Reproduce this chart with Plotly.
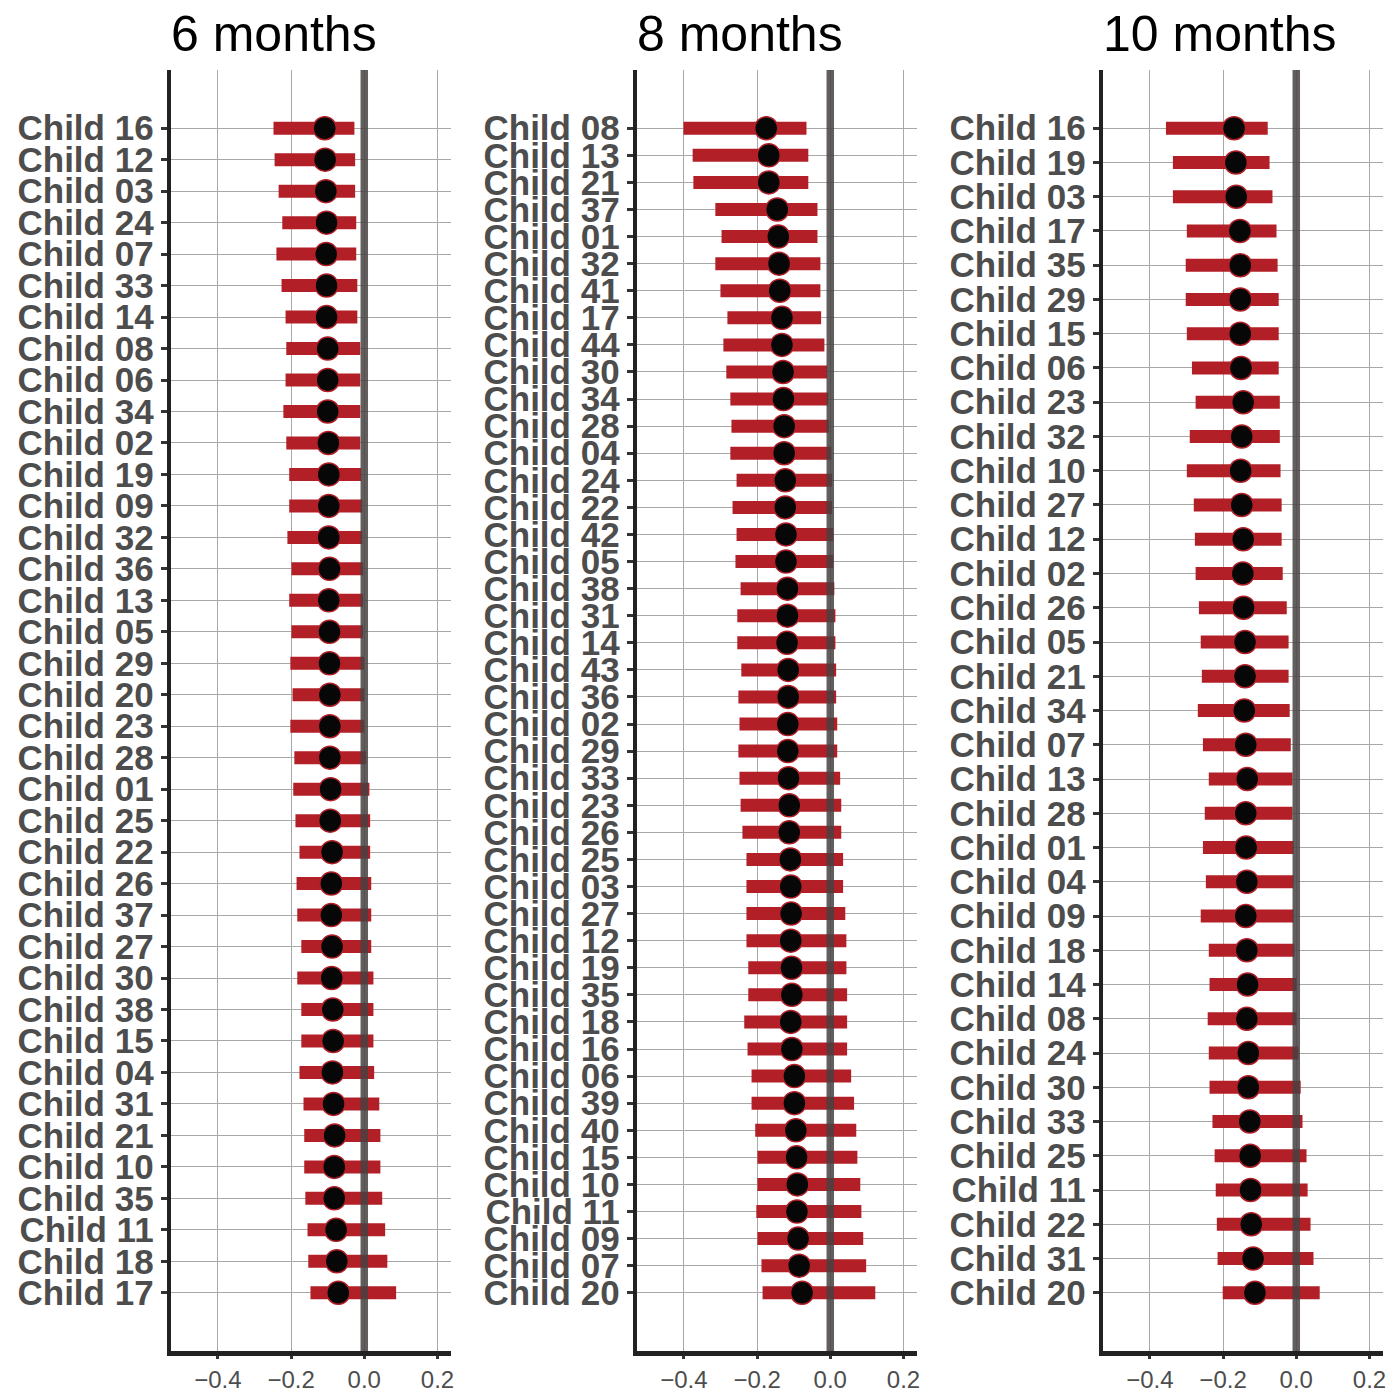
import plotly.graph_objects as go

# ---------------- data ----------------
titles = ["6 months", "8 months", "10 months"]

names6 = ["16","12","03","24","07","33","14","08","06","34",
          "02","19","09","32","36","13","05","29","20","23",
          "28","01","25","22","26","37","27","30","38","15",
          "04","31","21","10","35","11","18","17"]
est6 = [-0.108,-0.107,-0.105,-0.103,-0.104,-0.103,-0.103,-0.100,-0.100,-0.100,
        -0.098,-0.097,-0.097,-0.097,-0.095,-0.097,-0.095,-0.095,-0.094,-0.094,
        -0.094,-0.092,-0.093,-0.088,-0.090,-0.090,-0.088,-0.089,-0.086,-0.085,
        -0.087,-0.084,-0.081,-0.082,-0.082,-0.077,-0.075,-0.071]
lo6 = [-0.248,-0.245,-0.234,-0.224,-0.240,-0.226,-0.215,-0.213,-0.215,-0.221,
       -0.213,-0.205,-0.205,-0.210,-0.199,-0.205,-0.199,-0.202,-0.196,-0.202,
       -0.191,-0.194,-0.188,-0.177,-0.185,-0.183,-0.172,-0.183,-0.172,-0.172,
       -0.177,-0.166,-0.164,-0.164,-0.161,-0.155,-0.153,-0.147]
hi6 = [-0.027,-0.025,-0.025,-0.022,-0.022,-0.019,-0.019,-0.011,-0.011,-0.011,
       -0.011,-0.008,-0.005,-0.005,-0.003,-0.003,-0.003,0.000,0.000,0.000,
       0.005,0.014,0.016,0.016,0.019,0.019,0.019,0.025,0.025,0.025,
       0.027,0.041,0.044,0.044,0.049,0.057,0.063,0.087]

names8 = ["08","13","21","37","01","32","41","17","44","30",
          "34","28","04","24","22","42","05","38","31","14",
          "43","36","02","29","33","23","26","25","03","27",
          "12","19","35","18","16","06","39","40","15","10",
          "11","09","07","20"]
est8 = [-0.175,-0.168,-0.168,-0.145,-0.142,-0.140,-0.138,-0.132,-0.132,-0.129,
        -0.128,-0.126,-0.126,-0.123,-0.123,-0.121,-0.121,-0.117,-0.117,-0.118,
        -0.115,-0.115,-0.116,-0.116,-0.114,-0.112,-0.112,-0.109,-0.108,-0.107,
        -0.108,-0.106,-0.105,-0.108,-0.105,-0.098,-0.098,-0.094,-0.092,-0.090,
        -0.091,-0.088,-0.085,-0.077]
lo8 = [-0.401,-0.376,-0.374,-0.314,-0.297,-0.314,-0.300,-0.281,-0.292,-0.284,
       -0.273,-0.270,-0.273,-0.256,-0.267,-0.256,-0.259,-0.245,-0.254,-0.254,
       -0.243,-0.251,-0.248,-0.251,-0.248,-0.245,-0.240,-0.229,-0.229,-0.229,
       -0.229,-0.224,-0.224,-0.235,-0.226,-0.215,-0.215,-0.205,-0.199,-0.199,
       -0.202,-0.199,-0.188,-0.185]
hi8 = [-0.065,-0.060,-0.060,-0.035,-0.035,-0.027,-0.027,-0.025,-0.016,-0.008,
       -0.005,-0.003,0.003,0.005,0.005,0.008,0.008,0.011,0.014,0.014,
       0.016,0.016,0.019,0.019,0.027,0.030,0.030,0.035,0.035,0.041,
       0.044,0.044,0.046,0.046,0.046,0.057,0.065,0.071,0.074,0.082,
       0.085,0.090,0.098,0.123]

names10 = ["16","19","03","17","35","29","15","06","23","32",
           "10","27","12","02","26","05","21","34","07","13",
           "28","01","04","09","18","14","08","24","30","33",
           "25","11","22","31","20"]
est10 = [-0.170,-0.165,-0.164,-0.154,-0.153,-0.153,-0.153,-0.151,-0.145,-0.149,
         -0.152,-0.149,-0.145,-0.146,-0.144,-0.140,-0.140,-0.142,-0.138,-0.134,
         -0.138,-0.137,-0.135,-0.138,-0.135,-0.133,-0.135,-0.131,-0.131,-0.127,
         -0.126,-0.125,-0.123,-0.118,-0.113]
lo10 = [-0.356,-0.337,-0.337,-0.299,-0.302,-0.302,-0.299,-0.285,-0.275,-0.291,
        -0.299,-0.280,-0.277,-0.275,-0.266,-0.261,-0.258,-0.269,-0.255,-0.239,
        -0.250,-0.255,-0.247,-0.261,-0.239,-0.237,-0.242,-0.239,-0.237,-0.229,
        -0.223,-0.220,-0.217,-0.215,-0.201]
hi10 = [-0.078,-0.073,-0.065,-0.054,-0.051,-0.048,-0.048,-0.048,-0.045,-0.045,
        -0.043,-0.040,-0.040,-0.037,-0.026,-0.021,-0.021,-0.018,-0.015,-0.010,
        -0.010,-0.007,-0.007,-0.007,-0.005,0.001,0.001,0.006,0.012,0.017,
        0.028,0.031,0.039,0.047,0.064]

x_ticks = [-0.4, -0.2, 0.0, 0.2]

# ---------------- styling ----------------
FONT = "Liberation Sans, Arial, Helvetica, sans-serif"
RED = "#B21F26"
W, H = 1400, 1400
x_domains = [(171, 452), (638, 919), (1105, 1386)]
y_dom = [1 - 1351 / H, 1 - 70 / H]
x_range = [-0.529, 0.237]

panels = [
    (names6, est6, lo6, hi6),
    (names8, est8, lo8, hi8),
    (names10, est10, lo10, hi10),
]

fig = go.Figure()
layout = dict(
    width=W, height=H,
    margin=dict(l=0, r=0, t=0, b=0),
    paper_bgcolor="white", plot_bgcolor="white",
    showlegend=False,
    shapes=[], annotations=[],
    font=dict(family=FONT),
)

for i, (names, est, lo, hi) in enumerate(panels):
    k = "" if i == 0 else str(i + 1)
    labels = ["Child " + n for n in names]
    n = len(labels)
    pad = 0.05 * (n - 1)
    plus = [h - e for h, e in zip(hi, est)]
    minus = [e - l for e, l in zip(est, lo)]

    fig.add_trace(go.Scatter(
        x=est, y=labels, mode="markers",
        xaxis="x" + k, yaxis="y" + k,
        marker=dict(size=1, color="rgba(0,0,0,0)"),
        error_x=dict(type="data", symmetric=False, array=plus, arrayminus=minus,
                     thickness=13, width=0, color=RED),
        hoverinfo="skip",
    ))
    fig.add_trace(go.Scatter(
        x=est, y=labels, mode="markers",
        xaxis="x" + k, yaxis="y" + k,
        marker=dict(size=23, color="#070707", line=dict(color=RED, width=1.5)),
    ))

    d0, d1 = x_domains[i]
    layout["xaxis" + k] = dict(
        domain=[d0 / W, d1 / W], anchor="y" + k,
        range=x_range, tickvals=x_ticks,
        tickformat=".1f",
        showgrid=True, gridcolor="#A8A8A8", gridwidth=1,
        zeroline=False,
        showline=True, linecolor="#222222", linewidth=5,
        ticks="outside", ticklen=3, tickwidth=3, tickcolor="#333333",
        tickfont=dict(family=FONT, size=24, color="#4D4D4D"),
    )
    layout["yaxis" + k] = dict(
        domain=y_dom, anchor="x" + k,
        type="category", categoryorder="array",
        categoryarray=labels[::-1],
        tickmode="linear", tick0=0, dtick=1,
        range=[-pad, n - 1 + pad],
        showgrid=True, gridcolor="#A8A8A8", gridwidth=1,
        zeroline=False,
        showline=True, linecolor="#222222", linewidth=4,
        ticks="outside", ticklen=6, tickwidth=3, tickcolor="#333333",
        tickfont=dict(family=FONT, size=35, color="#4D4D4D", weight="bold"),
    )
    layout["shapes"].append(dict(
        type="line", xref="x" + k, yref="y" + k + " domain",
        x0=0, x1=0, y0=0, y1=1,
        line=dict(color="rgba(72,66,66,0.85)", width=7.5), layer="above",
    ))
    layout["annotations"].append(dict(
        text=titles[i], xref="paper", yref="paper",
        x=d0 / W - 2 / W, y=1 - 34 / H, xanchor="left", yanchor="middle",
        showarrow=False, font=dict(family=FONT, size=50, color="black"),
    ))

fig.update_layout(**layout)
fig.write_html(
    "out.html",
    config={"displayModeBar": False},
    post_script="document.body.style.margin='0px';document.body.style.overflow='hidden';",
)
